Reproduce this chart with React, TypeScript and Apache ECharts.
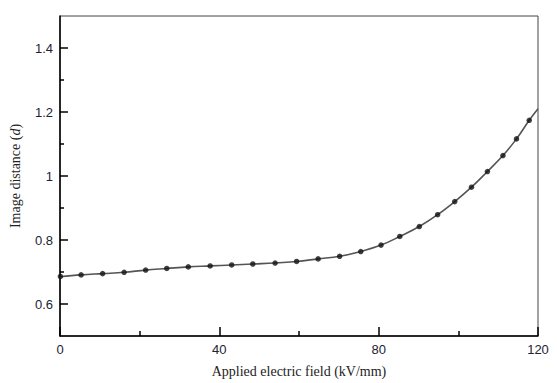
import React, { useEffect, useRef } from "react";
import * as echarts from "echarts";

// Measured image distance vs. applied electric field
const fieldKVmm = [0.1, 5.3, 10.7, 16.1, 21.5, 26.8, 32.2, 37.7, 43.1, 48.4, 54.0, 59.4, 64.8, 70.2, 75.5, 80.6, 85.3, 90.2, 94.8, 99.1, 103.3, 107.3, 111.2, 114.6, 117.8];
const imageDistance = [0.686, 0.691, 0.695, 0.699, 0.706, 0.711, 0.716, 0.719, 0.722, 0.725, 0.728, 0.733, 0.741, 0.749, 0.764, 0.784, 0.811, 0.842, 0.879, 0.920, 0.965, 1.014, 1.064, 1.116, 1.174];

// Fitted curve runs across the full field range
const curveX = [0, ...fieldKVmm.slice(1), 120];
const curveY = [0.685, ...imageDistance.slice(1), 1.21];

const yMajorTicks = [0.6, 0.8, 1.0, 1.2, 1.4];
const yMinorTicks = [0.7, 0.9, 1.1, 1.3];

export default function App() {
  const ref = useRef<HTMLDivElement>(null);
  useEffect(() => {
    if (!ref.current) return;
    const chart = echarts.init(ref.current, null, { renderer: "svg" });
    const labelStyle = { color: "#222233", fontFamily: "Liberation Sans, Arial, sans-serif", fontSize: 13 };
    chart.setOption({
      animation: false,
      backgroundColor: "#fff",
      grid: { left: 58, right: 19, top: 16, bottom: 44, show: true, borderColor: "#444", borderWidth: 1 },
      xAxis: {
        type: "value",
        min: 0,
        max: 120,
        interval: 40,
        name: "Applied electric field (kV/mm)",
        nameLocation: "middle",
        nameGap: 28,
        nameTextStyle: { color: "#222", fontFamily: "Liberation Serif, Times New Roman, serif", fontSize: 14 },
        axisLine: { show: true, lineStyle: { color: "#000", width: 1.5 } },
        axisTick: { show: true, inside: true, length: 9, lineStyle: { color: "#000", width: 1.5 } },
        minorTick: { show: true, splitNumber: 2, length: 5, lineStyle: { color: "#000", width: 1.5 } },
        splitLine: { show: false },
        axisLabel: { ...labelStyle, margin: 7 },
      },
      yAxis: [
        {
          type: "value",
          min: 0.5,
          max: 1.5,
          name: "{n|Image distance (}{i|d}{n|)}",
          nameLocation: "middle",
          nameGap: 38,
          nameTextStyle: {
            rich: {
              n: { color: "#222", fontFamily: "Liberation Serif, Times New Roman, serif", fontSize: 14 },
              i: { color: "#222", fontFamily: "Liberation Serif, Times New Roman, serif", fontSize: 14, fontStyle: "italic" },
            },
          },
          axisLine: { show: true, lineStyle: { color: "#000", width: 1.5 } },
          axisTick: { show: true, inside: true, length: 8, customValues: yMajorTicks, lineStyle: { color: "#000", width: 1.5 } },
          splitLine: { show: false },
          axisLabel: {
            ...labelStyle,
            margin: 7,
            customValues: yMajorTicks,
            formatter: (v: number) => (Math.abs(v - 1) < 1e-9 ? "1" : String(Number(v.toFixed(1)))),
          },
        },
        {
          type: "value",
          min: 0.5,
          max: 1.5,
          position: "left",
          axisLine: { show: false },
          axisTick: { show: true, inside: true, length: 4, customValues: yMinorTicks, lineStyle: { color: "#000", width: 1.5 } },
          axisLabel: { show: false },
          splitLine: { show: false },
        },
      ],
      series: [
        {
          type: "line",
          data: curveX.map((x, i) => [x, curveY[i]]),
          smooth: 0.4,
          showSymbol: false,
          symbol: "none",
          lineStyle: { color: "#555", width: 1.6 },
          z: 2,
        },
        {
          type: "scatter",
          data: fieldKVmm.map((x, i) => [x, imageDistance[i]]),
          symbol: "circle",
          symbolSize: 5.5,
          itemStyle: { color: "#111" },
          z: 3,
        },
      ],
    });
    return () => chart.dispose();
  }, []);
  return <div ref={ref} style={{ position: "absolute", left: 0, top: 0, width: 557, height: 383 }} />;
}
